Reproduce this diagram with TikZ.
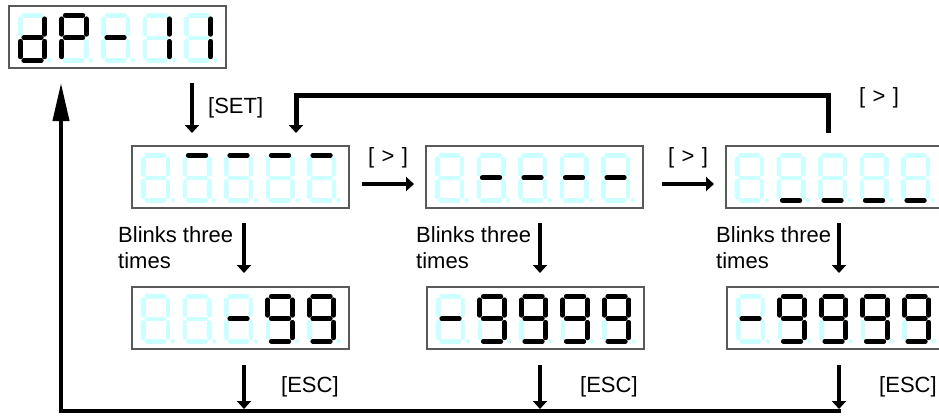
\documentclass[tikz,border=0pt]{standalone}
\usepackage{fontspec}
\setmainfont{Liberation Sans}
\usetikzlibrary{arrows.meta}
\definecolor{segoffc}{RGB}{204,255,255}
\tikzset{
 segoff/.style={draw=segoffc, line width=4.5pt, line cap=round},
 segon/.style={draw=black, line width=4.8pt, line cap=round},
 dispbox/.style={draw=black!65, line width=1.3pt, fill=white, minimum width=217pt, minimum height=62pt, anchor=north west, inner sep=0pt, outer sep=0pt},
 arr/.style={line width=4pt, -{Triangle[width=14pt,length=8pt]}},
 looparr/.style={line width=5pt, line join=miter, -{Triangle[width=14pt,length=8pt]}},
 backarr/.style={line width=4pt, line join=miter, -{Triangle[width=16pt,length=38pt]}},
 lbl/.style={font=\fontsize{22}{26}\selectfont, inner sep=0pt},
}
\def\segpathA{\draw[sgm] (3.5,0)--(21,0);}
\def\segpathB{\draw[sgm] (24.5,3.5)--(24.5,19);}
\def\segpathC{\draw[sgm] (24.5,26)--(24.5,41.5);}
\def\segpathD{\draw[sgm] (3.5,45)--(21,45);}
\def\segpathE{\draw[sgm] (0,26)--(0,41.5);}
\def\segpathF{\draw[sgm] (0,3.5)--(0,19);}
\def\segpathG{\draw[sgm] (3.5,22.5)--(21,22.5);}
\def\segpathN{}
\newcommand\ssd[3]{%
 \begin{scope}[shift={({#1},{#2})}]
  \tikzset{sgm/.style=segoff}
  \foreach \s in {A,B,C,D,E,F,G}{\csname segpath\s\endcsname}
  \tikzset{sgm/.style=segon}
  \foreach \s in {#3}{\csname segpath\s\endcsname}
  \fill[segoffc] (29.5,45) circle (2.2pt);
 \end{scope}}
\newcommand\ssdisp[8]{%
 \node[dispbox] (#1) at (#2,#3) {};
 \ssd{#2+11.3}{#3+9.3}{#4}%
 \ssd{#2+52.8}{#3+9.3}{#5}%
 \ssd{#2+94.3}{#3+9.3}{#6}%
 \ssd{#2+135.8}{#3+9.3}{#7}%
 \ssd{#2+177.3}{#3+9.3}{#8}}
\begin{document}
\begin{tikzpicture}[x=1pt,y=-1pt]
\useasboundingbox (0,0) rectangle (939,416);
\clip (0,0) rectangle (939,416);
\fill[white] (0,0) rectangle (939,416);
% displays
\ssdisp{d0}{9}{6}{B,C,D,E,G}{A,B,E,F,G}{G}{B,C}{B,C}
\ssdisp{d1}{132}{146}{N}{A}{A}{A}{A}
\ssdisp{d2}{426}{146}{N}{G}{G}{G}{G}
\ssdisp{d3}{726}{146}{N}{D}{D}{D}{D}
\ssdisp{d4}{132}{287}{N}{N}{G}{A,B,C,D,F,G}{A,B,C,D,F,G}
\ssdisp{d5}{427}{287}{G}{A,B,C,D,F,G}{A,B,C,D,F,G}{A,B,C,D,F,G}{A,B,C,D,F,G}
\ssdisp{d6}{727}{287}{G}{A,B,C,D,F,G}{A,B,C,D,F,G}{A,B,C,D,F,G}{A,B,C,D,F,G}
% coordinates
\coordinate (setS) at (192,83);
\coordinate (setE) at (192,133);
\coordinate (loopS) at (828,133);
\coordinate (loopE) at (296,133);
\coordinate (r1S) at (362,184);
\coordinate (r1E) at (414,184);
\coordinate (r2S) at (662,184);
\coordinate (r2E) at (714,184);
\coordinate (b1S) at (244,223);
\coordinate (b1E) at (244,273);
\coordinate (b2S) at (540,223);
\coordinate (b2E) at (540,273);
\coordinate (b3S) at (839,223);
\coordinate (b3E) at (839,273);
\coordinate (e1S) at (244,365);
\coordinate (e1E) at (244,409);
\coordinate (e2S) at (540,365);
\coordinate (e2E) at (540,409);
\coordinate (e3S) at (839,365);
\coordinate (e3E) at (839,409);
\coordinate (backS) at (841,411);
\coordinate (backC) at (61,411);
\coordinate (backE) at (61,83);
% arrows
\draw[arr] (setS) -- (setE);
\draw[looparr] (loopS) -- ++(0,-38) -| (loopE);
\draw[arr] (r1S) -- (r1E);
\draw[arr] (r2S) -- (r2E);
\draw[arr] (b1S) -- (b1E);
\draw[arr] (b2S) -- (b2E);
\draw[arr] (b3S) -- (b3E);
\draw[arr] (e1S) -- (e1E);
\draw[arr] (e2S) -- (e2E);
\draw[arr] (e3S) -- (e3E);
\draw[backarr] (backS) -- (backC) -- (backE);
% labels
\node[lbl, anchor=west] (tset) at (208,108) {[SET]};
\node[lbl, anchor=center] (tg0) at (879,98) {[\,\,>\,\,]};
\node[lbl, anchor=center] (tg1) at (388,158) {[\,\,>\,\,]};
\node[lbl, anchor=center] (tg2) at (688,158) {[\,\,>\,\,]};
\node[lbl, anchor=base west] (bl1) at (118,242) {Blinks three};
\node[lbl, anchor=base west] (bt1) at (118,268) {times};
\node[lbl, anchor=base west] (bl2) at (416,242) {Blinks three};
\node[lbl, anchor=base west] (bt2) at (416,268) {times};
\node[lbl, anchor=base west] (bl3) at (716,242) {Blinks three};
\node[lbl, anchor=base west] (bt3) at (716,268) {times};
\node[lbl, anchor=west] (esc1) at (281,387) {[ESC]};
\node[lbl, anchor=west] (esc2) at (580,387) {[ESC]};
\node[lbl, anchor=west] (esc3) at (879,387) {[ESC]};
\end{tikzpicture}
\end{document}
